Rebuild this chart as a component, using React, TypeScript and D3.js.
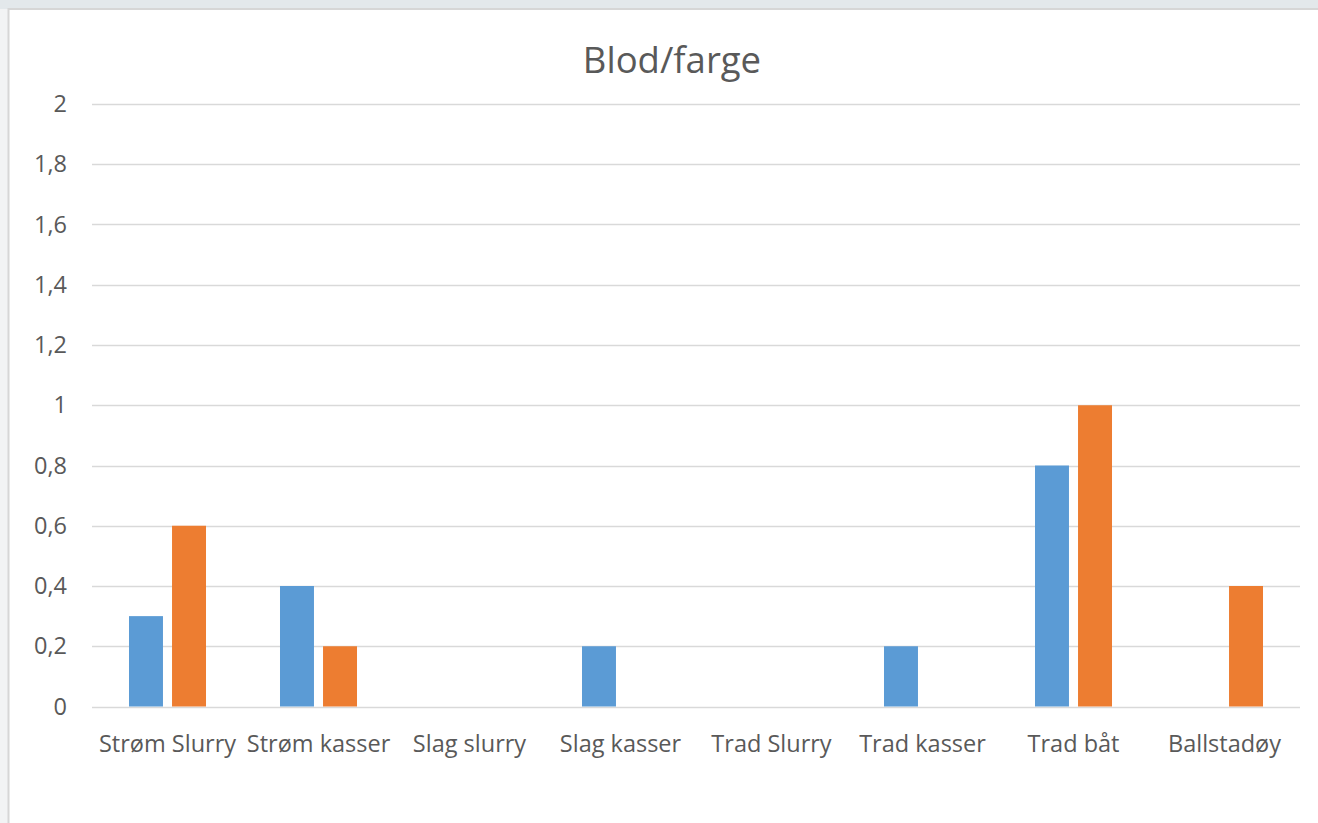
import React, { useRef, useEffect } from "react";
import * as d3 from "d3";

const categories = [
  "Strøm Slurry",
  "Strøm kasser",
  "Slag slurry",
  "Slag kasser",
  "Trad Slurry",
  "Trad kasser",
  "Trad båt",
  "Ballstadøy",
];
const seriesBlue = [0.3, 0.4, 0, 0.2, 0, 0.2, 0.8, 0];
const seriesOrange = [0.6, 0.2, 0, 0, 0, 0, 1, 0.4];
const yTicks = [0, 0.2, 0.4, 0.6, 0.8, 1, 1.2, 1.4, 1.6, 1.8, 2];
const colors = ["#5B9BD5", "#ED7D31"];

const App = () => {
  const svgRef = useRef<SVGSVGElement>(null);

  useEffect(() => {
    const width = 1318;
    const height = 823;
    const svg = d3.select(svgRef.current);
    svg.selectAll("*").remove();
    svg.attr("width", width).attr("height", height);

    const font = "'Segoe UI', 'Open Sans', 'Noto Sans', sans-serif";

    // window frame
    svg.append("rect").attr("width", width).attr("height", height).attr("fill", "#f2f3f4");
    svg.append("rect").attr("width", width).attr("height", 9).attr("fill", "#e3e8eb");
    svg
      .append("rect")
      .attr("x", 8.5)
      .attr("y", 9)
      .attr("width", width + 10)
      .attr("height", height + 10)
      .attr("fill", "#ffffff")
      .attr("stroke", "#d6d6d6")
      .attr("stroke-width", 2);

    const margin = { left: 92, right: 18, top: 104, bottom: 117 };
    const x = d3
      .scaleBand()
      .domain(categories)
      .range([margin.left, width - margin.right])
      .padding(0);
    const y = d3
      .scaleLinear()
      .domain([0, 2])
      .range([height - margin.bottom + 0.5, margin.top]);

    const fmt = (v: number) => d3.format("~g")(v).replace(".", ",");

    // gridlines
    svg
      .append("g")
      .selectAll("line")
      .data(yTicks)
      .enter()
      .append("line")
      .attr("x1", margin.left)
      .attr("x2", width - margin.right)
      .attr("y1", (d) => Math.round(y(d)) + 0.5)
      .attr("y2", (d) => Math.round(y(d)) + 0.5)
      .attr("stroke", "#d9d9d9")
      .attr("stroke-width", 1.5);

    // y labels
    svg
      .append("g")
      .selectAll("text")
      .data(yTicks)
      .enter()
      .append("text")
      .attr("x", 67)
      .attr("y", (d) => y(d))
      .attr("dy", "0.35em")
      .attr("text-anchor", "end")
      .attr("font-family", font)
      .attr("font-size", 23.5)
      .attr("fill", "#595959")
      .text((d) => fmt(d));

    // bars
    const bw = x.bandwidth();
    const barW = bw * 0.225;
    const gap = bw * 0.06;
    const series = [seriesBlue, seriesOrange];
    series.forEach((vals, si) => {
      svg
        .append("g")
        .selectAll("rect")
        .data(vals.map((v, i) => ({ c: categories[i], v })))
        .enter()
        .filter((d) => d.v > 0)
        .append("rect")
        .attr("x", (d) => {
          const cx = (x(d.c) as number) + bw / 2;
          return si === 0 ? cx - gap / 2 - barW : cx + gap / 2;
        })
        .attr("width", barW)
        .attr("y", (d) => y(d.v))
        .attr("height", (d) => y(0) - y(d.v))
        .attr("fill", colors[si]);
    });

    // category labels
    svg
      .append("g")
      .selectAll("text")
      .data(categories)
      .enter()
      .append("text")
      .attr("x", (d) => (x(d) as number) + bw / 2)
      .attr("y", 752)
      .attr("text-anchor", "middle")
      .attr("font-family", font)
      .attr("font-size", 23.5)
      .attr("fill", "#595959")
      .text((d) => d);

    // title
    svg
      .append("text")
      .attr("x", 672)
      .attr("y", 73)
      .attr("text-anchor", "middle")
      .attr("font-family", font)
      .attr("font-size", 36.5)
      .attr("fill", "#595959")
      .text("Blod/farge");
  }, []);

  return (
    <div style={{ position: "absolute", left: 0, top: 0 }}>
      <svg ref={svgRef}></svg>
    </div>
  );
};

export default App;
